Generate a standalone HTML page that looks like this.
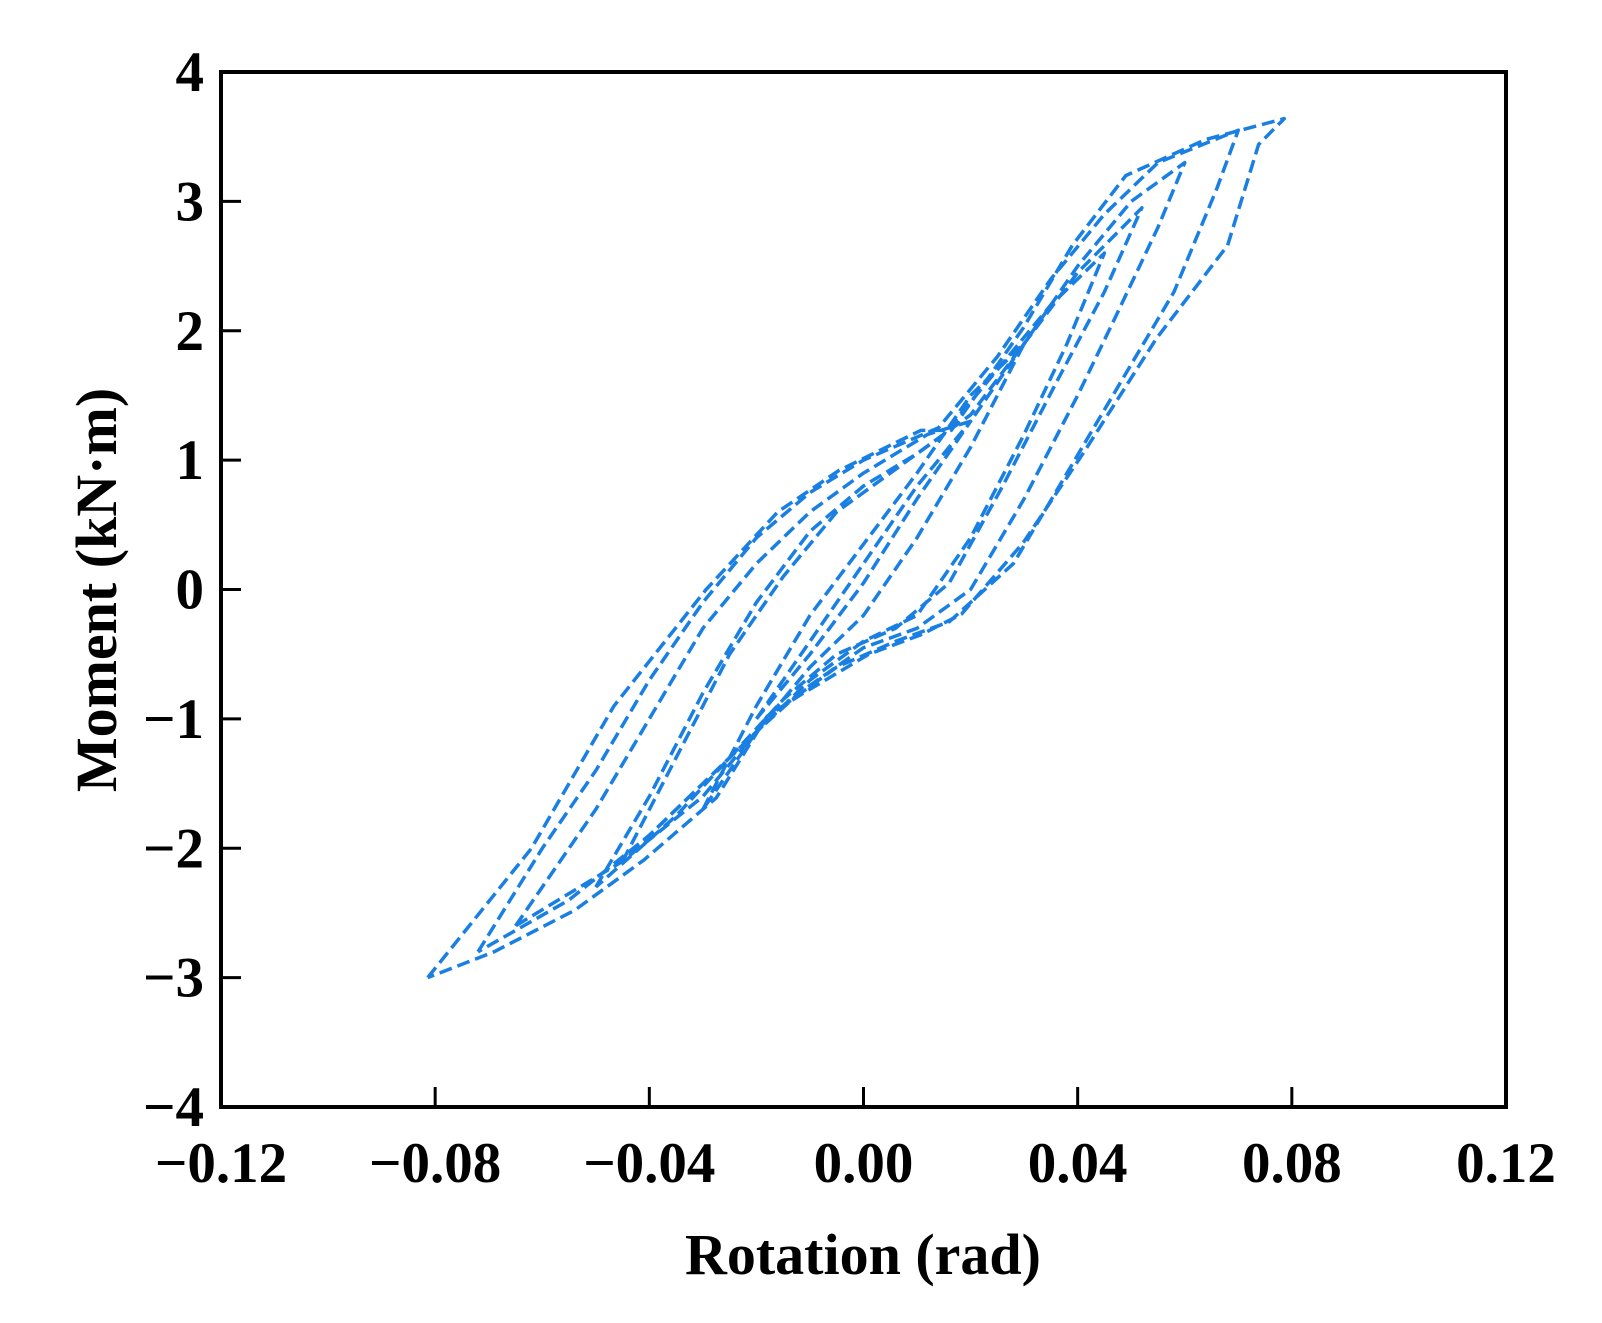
<!DOCTYPE html>
<html><head><meta charset="utf-8"><style>
html,body{margin:0;padding:0;background:#fff}
svg{display:block}
text{font-family:"Liberation Serif",serif;font-weight:bold;fill:#000}
</style></head><body>
<svg id="chart" width="1602" height="1323" viewBox="0 0 1602 1323">
<g id="loops"></g>
<rect x="221" y="72" width="1285" height="1035" fill="none" stroke="#000" stroke-width="4"/>
<g id="ticks"></g>
<text x="863" y="1274" font-size="58" text-anchor="middle">Rotation (rad)</text>
<text transform="translate(116,590) rotate(-90)" font-size="58" text-anchor="middle">Moment (kN·m)</text>
</svg>
<script>
const xTicks=[-0.12,-0.08,-0.04,0.00,0.04,0.08,0.12];
const xTickLabels=["\u22120.12","\u22120.08","\u22120.04","0.00","0.04","0.08","0.12"];
const yTicks=[4,3,2,1,0,-1,-2,-3,-4];
const yTickLabels=["4","3","2","1","0","\u22121","\u22122","\u22123","\u22124"];
const loop1X=[-0.02,-0.01,0,0.01,0.02,0.01,0,-0.01,-0.02];
const loop1Y=[-1.0,-0.4,0.2,0.8,1.3,0.7,0.05,-0.5,-1.0];
const loop2X=[-0.03,-0.02,-0.01,0,0.01,0.02,0.03,0.02,0.01,0,-0.01,-0.02,-0.03];
const loop2Y=[-1.7,-0.9,-0.2,0.35,0.9,1.5,1.9,1.1,0.4,-0.2,-0.6,-1.1,-1.7];
const loop3X=[-0.045,-0.035,-0.025,-0.015,-0.005,0.005,0.015,0.025,0.035,0.045,0.038,0.03,0.02,0.01,0,-0.01,-0.02,-0.03,-0.045];
const loop3Y=[-2.1,-1.3,-0.5,0.1,0.6,0.9,1.2,1.7,2.2,2.6,1.9,1.2,0.4,-0.2,-0.4,-0.7,-1.1,-1.5,-2.1];
const loop3bX=[-0.05,-0.04,-0.03,-0.02,-0.01,0,0.01,0.02,0.03,0.04,0.052,0.045,0.036,0.026,0.016,0.006,-0.005,-0.015,-0.025,-0.035,-0.05];
const loop3bY=[-2.3,-1.6,-0.8,-0.1,0.45,0.8,1.05,1.35,1.9,2.45,2.95,2.3,1.6,0.8,0.05,-0.3,-0.5,-0.85,-1.3,-1.75,-2.3];
const loop4X=[-0.065,-0.05,-0.04,-0.03,-0.02,-0.01,0,0.012,0.02,0.03,0.04,0.05,0.06,0.055,0.047,0.04,0.03,0.02,0.01,0,-0.012,-0.02,-0.03,-0.045,-0.065];
const loop4Y=[-2.6,-1.7,-1.0,-0.3,0.2,0.6,0.9,1.2,1.3,1.9,2.5,3.0,3.3,2.8,2.1,1.5,0.7,0.0,-0.3,-0.45,-0.8,-1.1,-1.6,-2.1,-2.6];
const loop5X=[-0.072,-0.06,-0.05,-0.04,-0.03,-0.02,-0.01,0,0.014,0.025,0.035,0.045,0.055,0.07,0.066,0.058,0.048,0.038,0.028,0.016,0.006,-0.005,-0.015,-0.025,-0.04,-0.055,-0.072];
const loop5Y=[-2.8,-2.0,-1.4,-0.7,-0.1,0.4,0.75,1.0,1.25,1.8,2.4,2.9,3.3,3.55,3.1,2.3,1.6,0.9,0.2,-0.25,-0.4,-0.6,-0.9,-1.3,-1.9,-2.4,-2.8];
const loop6X=[-0.0814,-0.062,-0.0466,-0.0294,-0.016,-0.0046,0.0107,0.0164,0.0298,0.039,0.049,0.064,0.0786,0.0738,0.068,0.0547,0.0413,0.0298,0.0183,0.0107,0.001,-0.012,-0.018,-0.0275,-0.041,-0.054,-0.069,-0.0814];
const loop6Y=[-3.0,-2.0,-0.9,0.0,0.6,0.92,1.23,1.23,2.02,2.66,3.2,3.48,3.64,3.44,2.66,1.94,1.07,0.36,-0.19,-0.35,-0.5,-0.82,-0.98,-1.61,-2.09,-2.48,-2.8,-3.0];
const loopsX=[loop1X,loop2X,loop3X,loop3bX,loop4X,loop5X,loop6X];
const loopsY=[loop1Y,loop2Y,loop3Y,loop3bY,loop4Y,loop5Y,loop6Y];

const X0=221,X1=1506,Y0=1107,Y1=72;
function sx(v){return X0+(v+0.12)/0.24*(X1-X0);}
function sy(v){return Y0-(v+4)/8*(Y0-Y1);}
const NS="http://www.w3.org/2000/svg";
const lg=document.getElementById('loops');
loopsX.forEach((xs,i)=>{
  const ys=loopsY[i];
  let d=xs.map((x,j)=>(j?'L':'M')+sx(x).toFixed(1)+','+sy(ys[j]).toFixed(1)).join(' ');
  const p=document.createElementNS(NS,'path');
  p.setAttribute('d',d);
  p.setAttribute('fill','none');
  p.setAttribute('stroke','#1a7fe3');
  p.setAttribute('stroke-width','3.5');
  p.setAttribute('stroke-dasharray','13 6');
  p.setAttribute('stroke-linejoin','round');
  
  
  lg.appendChild(p);
});
const tg=document.getElementById('ticks');
xTicks.forEach((v,i)=>{
  const x=sx(v);
  if(i>0&&i<xTicks.length-1){
    const l=document.createElementNS(NS,'line');
    l.setAttribute('x1',x);l.setAttribute('x2',x);l.setAttribute('y1',Y0);l.setAttribute('y2',Y0-20);
    l.setAttribute('stroke','#000');l.setAttribute('stroke-width','3');
    
    
    tg.appendChild(l);
  }
  const t=document.createElementNS(NS,'text');
  t.setAttribute('x',x);t.setAttribute('y',1182);t.setAttribute('font-size','57');t.setAttribute('text-anchor','middle');
  t.textContent=xTickLabels[i];
  
  
  tg.appendChild(t);
});
yTicks.forEach((v,i)=>{
  const y=sy(v);
  if(i>0&&i<yTicks.length-1){
    const l=document.createElementNS(NS,'line');
    l.setAttribute('x1',X0);l.setAttribute('x2',X0+20);l.setAttribute('y1',y);l.setAttribute('y2',y);
    l.setAttribute('stroke','#000');l.setAttribute('stroke-width','3');
    
    
    tg.appendChild(l);
  }
  const t=document.createElementNS(NS,'text');
  t.setAttribute('x',204);t.setAttribute('y',y+19);t.setAttribute('font-size','57');t.setAttribute('text-anchor','end');
  t.textContent=yTickLabels[i];
  
  
  tg.appendChild(t);
});
</script>
</body></html>
